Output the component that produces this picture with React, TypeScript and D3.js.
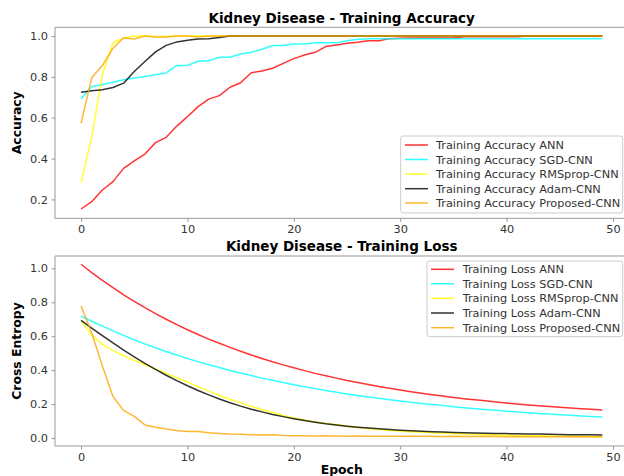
import * as d3 from "d3"
import React, { useEffect, useRef } from "react"

// epochs 0..49
const epochs: number[] = d3.range(0, 50)

const accAnn = [0.153, 0.189, 0.246, 0.287, 0.352, 0.389, 0.422, 0.478, 0.504, 0.559,
  0.605, 0.654, 0.691, 0.708, 0.749, 0.771, 0.820, 0.829, 0.842, 0.866,
  0.889, 0.907, 0.920, 0.948, 0.956, 0.964, 0.969, 0.977, 0.977, 0.987,
  0.989, 0.990, 0.990, 0.990, 0.990, 0.990, 0.996, 0.996, 0.996, 0.996,
  0.996, 0.996, 1.0, 1.0, 1.0, 1.0, 1.0, 1.0, 1.0, 1.0]
const accSgd = [0.693, 0.753, 0.761, 0.773, 0.786, 0.794, 0.802, 0.810, 0.819, 0.856,
  0.856, 0.876, 0.879, 0.896, 0.896, 0.912, 0.920, 0.935, 0.953, 0.953,
  0.961, 0.961, 0.967, 0.967, 0.967, 0.977, 0.984, 0.987, 0.987, 0.987,
  0.987, 0.987, 0.987, 0.987, 0.987, 0.987, 0.987, 0.987, 0.987, 0.987,
  0.987, 0.987, 0.987, 0.987, 0.987, 0.987, 0.987, 0.987, 0.987, 0.987]
const accRms = [0.282, 0.505, 0.810, 0.967, 0.989, 1.0, 1.0, 0.997, 0.997, 1.0,
  1.0, 1.0, 1.0, 1.0, 1.0, 1.0, 1.0, 1.0, 1.0, 1.0,
  1.0, 1.0, 1.0, 1.0, 1.0, 1.0, 1.0, 1.0, 1.0, 1.0,
  1.0, 1.0, 1.0, 1.0, 1.0, 1.0, 1.0, 1.0, 1.0, 1.0,
  1.0, 1.0, 1.0, 1.0, 1.0, 1.0, 1.0, 1.0, 1.0, 1.0]
const accAdam = [0.724, 0.732, 0.737, 0.748, 0.769, 0.826, 0.875, 0.922, 0.954, 0.971,
  0.979, 0.985, 0.986, 0.992, 1.0, 1.0, 1.0, 1.0, 1.0, 1.0,
  1.0, 1.0, 1.0, 1.0, 1.0, 1.0, 1.0, 1.0, 1.0, 1.0,
  1.0, 1.0, 1.0, 1.0, 1.0, 1.0, 1.0, 1.0, 1.0, 1.0,
  1.0, 1.0, 1.0, 1.0, 1.0, 1.0, 1.0, 1.0, 1.0, 1.0]
const accProp = [0.573, 0.796, 0.855, 0.940, 0.991, 0.985, 1.0, 0.995, 0.995, 1.0,
  1.0, 0.995, 1.0, 1.0, 1.0, 1.0, 1.0, 1.0, 1.0, 1.0,
  1.0, 1.0, 1.0, 1.0, 1.0, 1.0, 1.0, 1.0, 1.0, 1.0,
  1.0, 1.0, 1.0, 1.0, 1.0, 1.0, 1.0, 1.0, 1.0, 1.0,
  1.0, 1.0, 1.0, 1.0, 1.0, 1.0, 1.0, 1.0, 1.0, 1.0]

const lossAnn = [1.024, 0.975, 0.929, 0.886, 0.844, 0.805, 0.768, 0.733, 0.700, 0.668,
  0.638, 0.610, 0.583, 0.558, 0.534, 0.511, 0.489, 0.469, 0.449, 0.431,
  0.414, 0.397, 0.381, 0.367, 0.353, 0.339, 0.327, 0.315, 0.303, 0.293,
  0.283, 0.273, 0.264, 0.255, 0.247, 0.239, 0.232, 0.225, 0.219, 0.212,
  0.206, 0.201, 0.195, 0.190, 0.186, 0.181, 0.177, 0.173, 0.169, 0.165]
const lossSgd = [0.719, 0.688, 0.659, 0.631, 0.605, 0.579, 0.555, 0.532, 0.510, 0.489,
  0.469, 0.450, 0.432, 0.415, 0.398, 0.383, 0.368, 0.353, 0.340, 0.327,
  0.314, 0.302, 0.291, 0.280, 0.270, 0.260, 0.251, 0.242, 0.234, 0.226,
  0.218, 0.211, 0.204, 0.197, 0.191, 0.184, 0.179, 0.173, 0.168, 0.163,
  0.158, 0.154, 0.149, 0.145, 0.141, 0.137, 0.134, 0.130, 0.127, 0.124]
const lossRms = [0.689, 0.605, 0.553, 0.515, 0.485, 0.458, 0.432, 0.406, 0.381, 0.355,
  0.330, 0.302, 0.276, 0.251, 0.228, 0.207, 0.187, 0.168, 0.150, 0.133,
  0.118, 0.106, 0.095, 0.086, 0.078, 0.069, 0.062, 0.056, 0.050, 0.045,
  0.041, 0.037, 0.034, 0.031, 0.028, 0.026, 0.024, 0.022, 0.020, 0.018,
  0.017, 0.015, 0.014, 0.013, 0.012, 0.011, 0.010, 0.009, 0.008, 0.007]
const lossAdam = [0.693, 0.648, 0.603, 0.560, 0.518, 0.478, 0.440, 0.404, 0.370, 0.338,
  0.308, 0.280, 0.254, 0.230, 0.208, 0.188, 0.170, 0.154, 0.139, 0.126,
  0.114, 0.103, 0.093, 0.084, 0.077, 0.070, 0.064, 0.059, 0.054, 0.050,
  0.046, 0.043, 0.040, 0.037, 0.035, 0.033, 0.031, 0.029, 0.028, 0.027,
  0.026, 0.025, 0.024, 0.023, 0.022, 0.021, 0.020, 0.020, 0.019, 0.018]
const lossProp = [0.778, 0.620, 0.424, 0.245, 0.163, 0.128, 0.077, 0.063, 0.053, 0.045,
  0.039, 0.038, 0.031, 0.026, 0.023, 0.022, 0.020, 0.018, 0.019, 0.015,
  0.013, 0.013, 0.012, 0.013, 0.012, 0.011, 0.012, 0.011, 0.010, 0.011,
  0.010, 0.010, 0.011, 0.010, 0.009, 0.010, 0.009, 0.009, 0.010, 0.009,
  0.008, 0.009, 0.008, 0.008, 0.008, 0.007, 0.008, 0.007, 0.007, 0.007]

const methods = ["ANN", "SGD-CNN", "RMSprop-CNN", "Adam-CNN", "Proposed-CNN"]
const colors = ["red", "cyan", "yellow", "black", "orange"]
const accSeries = [accAnn, accSgd, accRms, accAdam, accProp]
const lossSeries = [lossAnn, lossSgd, lossRms, lossAdam, lossProp]
const accTicks = [0.2, 0.4, 0.6, 0.8, 1.0]
const lossTicks = [0.0, 0.2, 0.4, 0.6, 0.8, 1.0]
const epochTicks = [0, 10, 20, 30, 40, 50]

const FONT = "DejaVu Sans, sans-serif"

const App = () => {
    const refSvg = useRef<SVGSVGElement>(null)

    useEffect(() => {
        const svg = d3.select(refSvg.current)
        svg.selectAll("*").remove()

        const left = 55, right = 628.4
        const scaleX = d3.scaleLinear().domain([-2.45, 51.45]).range([left, right])

        const panels = [
            { series: accSeries, ticks: accTicks, fmt: d3.format(".1f"),
              yDom: [0.1075, 1.0425], top: 27.3, bottom: 218.3,
              title: "Kidney Disease - Training Accuracy", titleY: 22.5,
              ylabel: "Accuracy", prefix: "Training Accuracy ",
              legend: { x0: 400.7, y0: 136, y1: 213, rows: [145, 159.5, 174, 188.7, 203], lineX: 405, textX: 436 } },
            { series: lossSeries, ticks: lossTicks, fmt: d3.format(".1f"),
              yDom: [-0.047, 1.0725], top: 256, bottom: 446,
              title: "Kidney Disease - Training Loss", titleY: 251,
              ylabel: "Cross Entropy", prefix: "Training Loss ",
              legend: { x0: 427, y0: 261, y1: 336.7, rows: [269.3, 283.7, 298.3, 313, 327.7], lineX: 431, textX: 462.7 } },
        ]

        panels.forEach((p) => {
            const scaleY = d3.scaleLinear().domain(p.yDom).range([p.bottom, p.top])
            const g = svg.append("g")

            // spines
            g.append("path")
                .attr("d", `M${left},${p.top}V${p.bottom}H${right}V${p.top}Z`)
                .attr("fill", "none").attr("stroke", "#999").attr("stroke-width", 1)

            // x axis
            const gx = g.append("g").attr("transform", `translate(0,${p.bottom})`)
                .call(d3.axisBottom(scaleX).tickValues(epochTicks).tickSize(3.5).tickPadding(3.5).tickFormat(d3.format("d")))
            gx.select(".domain").remove()
            gx.selectAll(".tick line").attr("stroke", "#999")
            gx.selectAll(".tick text").attr("fill", "#333").attr("font-size", 11.3).attr("font-family", FONT)

            // y axis
            const gy = g.append("g").attr("transform", `translate(${left},0)`)
                .call(d3.axisLeft(scaleY).tickValues(p.ticks).tickSize(3.5).tickPadding(3.5).tickFormat(p.fmt as any))
            gy.select(".domain").remove()
            gy.selectAll(".tick line").attr("stroke", "#999")
            gy.selectAll(".tick text").attr("fill", "#333").attr("font-size", 11.3).attr("font-family", FONT)

            // lines
            const line = d3.line<number>()
                .x((d, i) => scaleX(epochs[i]))
                .y((d) => scaleY(d))
            p.series.forEach((s, i) => {
                g.append("path")
                    .attr("d", line(s))
                    .attr("fill", "none")
                    .attr("stroke", colors[i])
                    .attr("stroke-opacity", 0.8)
                    .attr("stroke-width", 1.5)
                    .attr("stroke-linejoin", "round")
            })

            // title
            g.append("text")
                .attr("x", (left + right) / 2).attr("y", p.titleY)
                .attr("text-anchor", "middle")
                .attr("font-family", FONT).attr("font-weight", "bold").attr("font-size", 13.5)
                .text(p.title)

            // y label
            g.append("text")
                .attr("transform", `translate(21,${(p.top + p.bottom) / 2}) rotate(-90)`)
                .attr("text-anchor", "middle")
                .attr("font-family", FONT).attr("font-weight", "bold").attr("font-size", 12.4)
                .text(p.ylabel)

            // legend
            const lg = p.legend
            g.append("rect")
                .attr("x", lg.x0).attr("y", lg.y0)
                .attr("width", 622.7 - lg.x0).attr("height", lg.y1 - lg.y0)
                .attr("rx", 2.5)
                .attr("fill", "white").attr("fill-opacity", 0.8)
                .attr("stroke", "#ccc").attr("stroke-width", 1)
            methods.forEach((m, i) => {
                const yy = lg.rows[i]
                g.append("line")
                    .attr("x1", lg.lineX).attr("x2", lg.lineX + 23)
                    .attr("y1", yy).attr("y2", yy)
                    .attr("stroke", colors[i]).attr("stroke-opacity", 0.8).attr("stroke-width", 1.5)
                g.append("text")
                    .attr("x", lg.textX).attr("y", yy + 4)
                    .attr("font-family", FONT).attr("font-size", 11.3).attr("fill", "#333")
                    .text(p.prefix + m)
            })
        })

        // x label
        svg.append("text")
            .attr("x", (left + right) / 2).attr("y", 473.5)
            .attr("text-anchor", "middle")
            .attr("font-family", FONT).attr("font-weight", "bold").attr("font-size", 12.4)
            .text("Epoch")
    }, [])

    return (
        <svg ref={refSvg} width={624} height={476}
            style={{ position: "absolute", left: 0, top: 0, background: "white" }} />
    )
}

export default App
